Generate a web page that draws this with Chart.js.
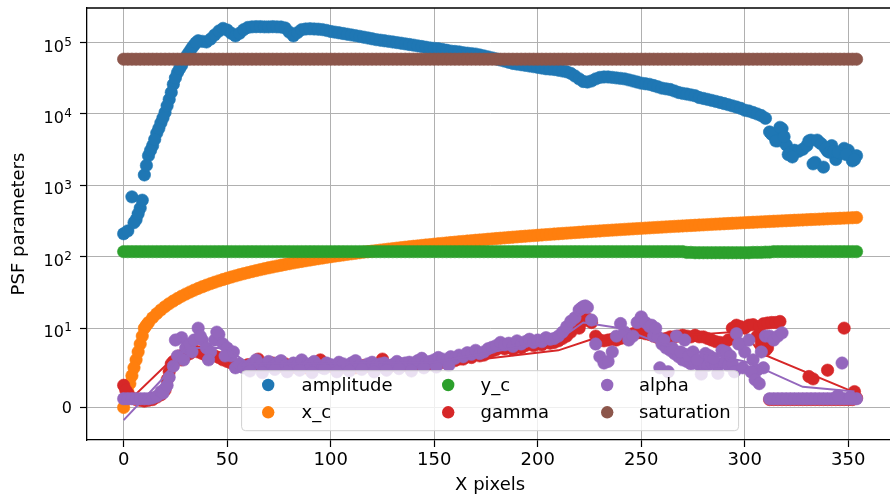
<!DOCTYPE html>
<html>
<head>
<meta charset="utf-8">
<title>PSF parameters</title>
<script src="https://cdn.jsdelivr.net/npm/chart.js@4.4.1/dist/chart.umd.min.js"></script>
<style>
html, body { margin: 0; padding: 0; background: #fff; overflow: hidden; }
canvas { display: block; }
</style>
</head>
<body>
<canvas id="psfChart" width="900" height="498"></canvas>
<script>
// ---- data (X pixel positions, every 2 px) ----
const xPixels = [
  0, 2, 4, 6, 8, 10, 12, 14, 16, 18,
  20, 22, 24, 26, 28, 30, 32, 34, 36, 38,
  40, 42, 44, 46, 48, 50, 52, 54, 56, 58,
  60, 62, 64, 66, 68, 70, 72, 74, 76, 78,
  80, 82, 84, 86, 88, 90, 92, 94, 96, 98,
  100, 102, 104, 106, 108, 110, 112, 114, 116, 118,
  120, 122, 124, 126, 128, 130, 132, 134, 136, 138,
  140, 142, 144, 146, 148, 150, 152, 154, 156, 158,
  160, 162, 164, 166, 168, 170, 172, 174, 176, 178,
  180, 182, 184, 186, 188, 190, 192, 194, 196, 198,
  200, 202, 204, 206, 208, 210, 212, 214, 216, 218,
  220, 222, 224, 226, 228, 230, 232, 234, 236, 238,
  240, 242, 244, 246, 248, 250, 252, 254, 256, 258,
  260, 262, 264, 266, 268, 270, 272, 274, 276, 278,
  280, 282, 284, 286, 288, 290, 292, 294, 296, 298,
  300, 302, 304, 306, 308, 310, 312, 314, 316, 318,
  320, 322, 324, 326, 328, 330, 332, 334, 336, 338,
  340, 342, 344, 346, 348, 350, 352, 354
];

const amplitude = [
  210, 230, 690, 330, 480, 1400, 2600, 3600, 5400, 7500,
  10500, 16000, 26000, 38000, 48000, 62000, 76000, 92000, 106000, 104000,
  102000, 112000, 128000, 145000, 158000, 150000, 135000, 124000, 135000, 152000,
  163000, 166000, 167000, 167000, 166000, 166000, 167000, 166000, 165000, 160000,
  140000, 124000, 138000, 152000, 155000, 156000, 155000, 154000, 152000, 148000,
  143000, 140000, 137000, 134000, 131000, 128000, 125000, 122000, 119000, 116000,
  113000, 110000, 108000, 106000, 104000, 102000, 100000, 98000, 96000, 94000,
  92000, 90000, 88000, 86000, 84000, 83000, 82000, 80000, 78000, 76000,
  75000, 74000, 72000, 71000, 70000, 69000, 67000, 65000, 63000, 61000,
  59000, 57000, 55000, 53000, 51000, 50000, 49000, 48000, 47000, 46000,
  45000, 44000, 43000, 42500, 42000, 41000, 40000, 39000, 37000, 34000,
  31000, 28500, 28000, 29000, 31000, 32500, 33000, 33000, 32500, 32000,
  31500, 31000, 30000, 29000, 28000, 27000, 26500, 26000, 25000, 24000,
  23000, 22500, 22000, 21000, 20000, 19400, 19000, 18500, 18000, 17000,
  16500, 16000, 15500, 15000, 14500, 14000, 13500, 13000, 12500, 12000,
  11300, 11000, 10500, 10000, 9500, 8700, 5600, 5000, 4200, 6200,
  3700, 2900, 3100, 3000, 3200, 3600, 4300, 2100, 4000, 1800,
  3000, 3600, 2300, 2800, 3300, 3100, 2200, 2600
];
const amplitudeExtraX = [5, 7, 9, 11, 13, 15, 17, 19, 21, 23, 25, 27, 29, 31, 33, 35,
  313, 315, 317, 319, 321, 323, 331, 333, 335, 337, 339, 341, 343, 345, 349, 353];
const amplitudeExtraY = [300, 400, 620, 1900, 3100, 4400, 6300, 8800, 13000, 20000, 32000, 43000, 55000, 69000, 84000, 100000,
  5200, 4200, 6500, 4800, 2700, 2500, 4200, 2000, 4300, 3800, 3300, 2900, 3000, 2900, 2700, 2300];

const xCentre = [
  0, 2, 4, 6, 8, 10, 12, 14, 16, 18,
  20, 22, 24, 26, 28, 30, 32, 34, 36, 38,
  40, 42, 44, 46, 48, 50, 52, 54, 56, 58,
  60, 62, 64, 66, 68, 70, 72, 74, 76, 78,
  80, 82, 84, 86, 88, 90, 92, 94, 96, 98,
  100, 102, 104, 106, 108, 110, 112, 114, 116, 118,
  120, 122, 124, 126, 128, 130, 132, 134, 136, 138,
  140, 142, 144, 146, 148, 150, 152, 154, 156, 158,
  160, 162, 164, 166, 168, 170, 172, 174, 176, 178,
  180, 182, 184, 186, 188, 190, 192, 194, 196, 198,
  200, 202, 204, 206, 208, 210, 212, 214, 216, 218,
  220, 222, 224, 226, 228, 230, 232, 234, 236, 238,
  240, 242, 244, 246, 248, 250, 252, 254, 256, 258,
  260, 262, 264, 266, 268, 270, 272, 274, 276, 278,
  280, 282, 284, 286, 288, 290, 292, 294, 296, 298,
  300, 302, 304, 306, 308, 310, 312, 314, 316, 318,
  320, 322, 324, 326, 328, 330, 332, 334, 336, 338,
  340, 342, 344, 346, 348, 350, 352, 354
];
const xCentreExtraX = [1, 3, 5, 7, 9, 11];
const xCentreExtraY = [1, 3, 5, 7, 9, 11];

const yCentre = [
  118, 118, 118, 118, 118, 118, 118, 118, 118, 118,
  118, 118, 118, 118, 118, 118, 118, 118, 118, 118,
  118, 118, 118, 118, 118, 118, 118, 118, 118, 118,
  118, 118, 118, 118, 118, 118, 118, 118, 118, 118,
  118, 118, 118, 118, 118, 118, 118, 118, 118, 118,
  118, 118, 118, 118, 118, 118, 118, 118, 118, 118,
  118, 118, 118, 118, 118, 118, 118, 118, 118, 118,
  118, 118, 118, 118, 118, 118, 118, 118, 118, 118,
  118, 118, 118, 118, 118, 118, 118, 118, 118, 118,
  118, 118, 118, 118, 118, 118, 118, 118, 118, 118,
  118, 118, 118, 118, 118, 118, 118, 118, 118, 118,
  118, 118, 118, 118, 118, 118, 118, 118, 118, 118,
  118, 118, 118, 118, 118, 118, 118, 118, 118, 118,
  118, 118, 118, 118, 118, 118, 115, 115, 114, 114,
  114, 114, 114, 114, 114, 114, 114, 114, 114, 114,
  114, 114, 115, 115, 115, 116, 116, 118, 118, 118,
  118, 118, 118, 118, 118, 118, 118, 118, 118, 118,
  118, 118, 118, 118, 118, 118, 118, 118
];

const gamma = [
  2.8, 1.8, 1.2, 1.0, 0.9, 0.8, 0.9, 1.0, 1.3, 1.6,
  2.2, 4.5, 5.8, 6.2, 6.0, 6.5, 6.8, 7.2, 7.0, 6.8,
  6.5, 6.7, 6.5, 6.3, 6.0, 5.8, 5.6, 5.4, 5.3, 5.2,
  5.4, 5.2, 5.5, 5.3, 5.1, 5.4, 5.6, 5.3, 5.2, 5.5,
  5.3, 5.1, 5.4, 5.2, 5.0, 5.3, 5.5, 5.2, 5.1, 5.3,
  5.2, 5.0, 5.3, 5.1, 5.2, 5.4, 5.0, 5.1, 5.3, 5.2,
  5.0, 5.1, 5.3, 5.2, 5.1, 5.3, 5.2, 5.4, 5.3, 5.2,
  5.2, 5.5, 5.7, 5.3, 5.5, 5.6, 5.8, 5.7, 5.6, 5.9,
  5.9, 6.1, 6.1, 6.4, 6.3, 6.7, 6.5, 6.6, 6.9, 7.1,
  7.3, 7.6, 7.4, 7.6, 7.3, 7.8, 7.5, 7.8, 8.0, 7.8,
  8.0, 7.9, 8.2, 8.1, 8.2, 8.4, 8.7, 9.0, 9.5, 10.5,
  10.0, 12.5, 13.5, 12.0, 9.0, 8.5, 8.4, 8.5, 8.6, 8.5,
  8.7, 8.8, 9.0, 9.3, 9.5, 9.5, 9.3, 9.2, 9.0, 8.8,
  8.6, 8.7, 8.9, 8.9, 9.0, 9.1, 9.0, 8.9, 9.1, 8.9,
  8.9, 8.7, 8.5, 8.3, 8.2, 8.1, 8.5, 10.0, 11.0, 10.5,
  10.0, 11.0, 11.2, 9.0, 8.0, 7.2, 1.0, 1.0, 1.0, 1.0,
  1.0, 1.0, 1.0, 1.0, 1.0, 1.0, 1.0, 1.0, 1.0, 1.0,
  1.0, 1.0, 1.0, 1.0, 1.0, 1.0, 1.0, 1.2
];
const gammaExtraX = [1, 21, 23, 27, 65, 95, 125, 307, 309, 311, 311, 313, 315, 317, 331, 333, 340, 348, 353];
const gammaExtraY = [2.2, 3.5, 5.5, 6.5, 6.1, 6.0, 6.1, 10.5, 11.5, 11.8, 7.5, 12.0, 12.0, 12.4, 3.9, 3.6, 4.7, 10.0, 2.0];

const alpha = [
  1.1, 1.1, 1.1, 1.1, 1.1, 1.1, 1.1, 1.2, 1.4, 2.0,
  2.4, 3.8, 5.2, 6.5, 8.8, 7.5, 8.0, 8.5, 10.0, 8.5,
  7.5, 7.0, 8.5, 9.2, 8.0, 7.5, 6.5, 5.0, 5.5, 5.0,
  5.2, 5.5, 6.0, 5.4, 5.0, 5.8, 5.2, 5.6, 5.9, 5.3,
  5.1, 5.6, 5.4, 6.0, 5.2, 5.5, 5.8, 5.3, 5.0, 5.6,
  5.4, 5.2, 5.7, 5.5, 5.1, 5.6, 5.9, 5.3, 5.2, 5.5,
  5.7, 5.3, 5.5, 5.6, 5.2, 5.4, 5.8, 5.5, 5.6, 5.7,
  5.5, 5.9, 6.2, 5.6, 5.8, 6.0, 6.3, 6.1, 5.9, 6.4,
  6.2, 6.6, 6.4, 6.9, 6.7, 7.2, 6.8, 7.0, 7.4, 7.6,
  7.8, 8.2, 7.9, 8.1, 7.7, 8.4, 8.0, 8.3, 8.6, 8.2,
  8.5, 8.3, 8.8, 8.6, 8.7, 9.0, 9.5, 10.5, 12.5, 14.0,
  18.0, 20.0, 19.5, 13.0, 8.0, 6.4, 5.6, 5.8, 7.0, 9.0,
  11.6, 9.5, 8.5, 9.0, 12.0, 14.4, 12.0, 10.5, 9.0, 8.9,
  8.0, 7.5, 7.2, 6.8, 6.4, 6.0, 5.8, 5.5, 5.6, 5.4,
  5.5, 5.3, 5.6, 5.4, 5.5, 5.7, 5.3, 5.5, 9.3, 8.0,
  7.0, 8.5, 6.0, 4.7, 7.0, 9.0, 1.1, 1.1, 1.1, 1.1,
  1.1, 1.1, 1.1, 1.1, 1.1, 1.1, 1.1, 1.1, 1.1, 1.1,
  1.1, 1.1, 1.1, 1.1, 1.1, 1.1, 1.1, 1.1
];
const alphaExtraX = [19, 21, 25, 29, 33, 37, 41, 45, 49, 53,
  61, 67, 73, 79, 85, 91, 97, 103, 109, 115, 121, 127, 133, 139, 145, 151, 157,
  221, 223,
  255, 257, 259, 261, 263, 265, 267, 269, 271, 273, 275, 277, 279, 281,
  283, 285, 287, 289, 291, 293, 295, 297, 299, 303, 305, 307, 309,
  312, 314, 316, 318, 345, 347, 351];
const alphaExtraY = [1.8, 2.8, 8.5, 6.0, 7.0, 9.0, 6.0, 9.5, 6.5, 7.0,
  4.6, 4.4, 4.8, 4.5, 4.7, 4.4, 4.9, 4.5, 4.6, 4.8, 4.5, 4.7, 4.9, 4.6, 5.0, 5.1, 5.3,
  19.0, 20.5,
  11.0, 10.0, 5.0, 8.5, 4.5, 7.5, 9.0, 7.0, 8.5, 6.5, 7.0, 6.0, 4.2, 6.8,
  6.5, 6.2, 4.3, 7.2, 7.0, 6.5, 4.5, 8.0, 5.0, 4.5, 3.5, 3.0, 5.0,
  9.0, 8.5, 9.0, 9.4, 1.5, 5.6, 1.3];

const saturation = [
  58500, 58500, 58500, 58500, 58500, 58500, 58500, 58500, 58500, 58500,
  58500, 58500, 58500, 58500, 58500, 58500, 58500, 58500, 58500, 58500,
  58500, 58500, 58500, 58500, 58500, 58500, 58500, 58500, 58500, 58500,
  58500, 58500, 58500, 58500, 58500, 58500, 58500, 58500, 58500, 58500,
  58500, 58500, 58500, 58500, 58500, 58500, 58500, 58500, 58500, 58500,
  58500, 58500, 58500, 58500, 58500, 58500, 58500, 58500, 58500, 58500,
  58500, 58500, 58500, 58500, 58500, 58500, 58500, 58500, 58500, 58500,
  58500, 58500, 58500, 58500, 58500, 58500, 58500, 58500, 58500, 58500,
  58500, 58500, 58500, 58500, 58500, 58500, 58500, 58500, 58500, 58500,
  58500, 58500, 58500, 58500, 58500, 58500, 58500, 58500, 58500, 58500,
  58500, 58500, 58500, 58500, 58500, 58500, 58500, 58500, 58500, 58500,
  58500, 58500, 58500, 58500, 58500, 58500, 58500, 58500, 58500, 58500,
  58500, 58500, 58500, 58500, 58500, 58500, 58500, 58500, 58500, 58500,
  58500, 58500, 58500, 58500, 58500, 58500, 58500, 58500, 58500, 58500,
  58500, 58500, 58500, 58500, 58500, 58500, 58500, 58500, 58500, 58500,
  58500, 58500, 58500, 58500, 58500, 58500, 58500, 58500, 58500, 58500,
  58500, 58500, 58500, 58500, 58500, 58500, 58500, 58500, 58500, 58500,
  58500, 58500, 58500, 58500, 58500, 58500, 58500, 58500
];

// thin fitted curves drawn through gamma and alpha
const gammaFitX = [0, 4, 25, 40, 60, 150, 210, 225, 240, 260, 300, 307, 353];
const gammaFitY = [1.4, 1.2, 6.5, 6.5, 5.3, 5.4, 7.2, 8.5, 8.6, 8.9, 9.6, 6.9, 1.9];
const alphaFitX = [0, 18, 30, 50, 60, 150, 210, 222, 240, 260, 300, 305, 328, 353];
const alphaFitY = [-1.6, 3.4, 7.5, 7.5, 5.5, 5.7, 8.5, 12, 10, 8, 5.8, 5.3, 2.6, 2.0];

const seriesNames = ['amplitude', 'x_c', 'y_c', 'gamma', 'alpha', 'saturation'];
const seriesColors = ['#1f77b4', '#ff7f0e', '#2ca02c', '#d62728', '#9467bd', '#8c564b'];

const xTicks = [0, 50, 100, 150, 200, 250, 300, 350];
const yTicks = [0, 10, 100, 1000, 10000, 100000];
const yTickExponents = [null, '1', '2', '3', '4', '5'];

// ---- symmetric log scale (linthresh 10, linscale 1), like matplotlib 'symlog' ----
const LINTHRESH = 10;
const LINSCALE = 1 / (1 - 1 / 10);
function symlog(v) {
  const a = Math.abs(v);
  if (a <= LINTHRESH) return v / LINTHRESH * LINSCALE;
  return Math.sign(v) * (LINSCALE + Math.log10(a / LINTHRESH));
}
function symexp(t) {
  const a = Math.abs(t);
  if (a <= LINSCALE) return t / LINSCALE * LINTHRESH;
  return Math.sign(t) * LINTHRESH * Math.pow(10, a - LINSCALE);
}

class SymlogScale extends Chart.LinearScale {
  static id = 'symlog';
  static defaults = {};
  configure() {
    super.configure();
    this._tMin = symlog(this.min);
    this._tMax = symlog(this.max);
  }
  buildTicks() {
    return yTicks.filter(v => v >= this.min && v <= this.max).map(v => ({ value: v }));
  }
  getPixelForValue(value) {
    if (value === null || isNaN(value)) return NaN;
    return this.getPixelForDecimal((symlog(value) - this._tMin) / (this._tMax - this._tMin));
  }
  getValueForPixel(pixel) {
    return symexp(this._tMin + this.getDecimalForPixel(pixel) * (this._tMax - this._tMin));
  }
}
Chart.register(SymlogScale);

function toPoints(xs, ys) {
  return xs.map((x, i) => ({ x: x, y: ys[i] }));
}

function markerSet(idx, main, extraX, extraY, order) {
  let data = toPoints(xPixels, main);
  if (extraX) data = data.concat(toPoints(extraX, extraY));
  return {
    label: seriesNames[idx],
    data: data,
    backgroundColor: seriesColors[idx],
    borderColor: seriesColors[idx],
    pointRadius: 6.2,
    pointHoverRadius: 6.2,
    pointBorderWidth: 0.6,
    showLine: false,
    order: order
  };
}

function fitLine(idx, xs, ys, order) {
  return {
    label: seriesNames[idx] + ' fit',
    data: toPoints(xs, ys),
    borderColor: seriesColors[idx],
    backgroundColor: seriesColors[idx],
    borderWidth: 2,
    pointRadius: 0,
    showLine: true,
    fill: false,
    order: order
  };
}

// y tick labels as 10 with a raised exponent (matplotlib mathtext style)
const symlogLabels = {
  id: 'symlogLabels',
  afterDraw(chart) {
    const { ctx } = chart;
    const scale = chart.scales.y;
    const right = scale.right - 15;
    ctx.save();
    ctx.fillStyle = '#000';
    ctx.textBaseline = 'alphabetic';
    ctx.textAlign = 'right';
    yTicks.forEach((v, i) => {
      const y = scale.getPixelForValue(v);
      const exp = yTickExponents[i];
      if (exp === null) {
        ctx.font = '16px "DejaVu Sans"';
        ctx.fillText(String(v), right, y + 5.8);
        return;
      }
      ctx.font = '12px "DejaVu Sans"';
      const expW = ctx.measureText(exp).width;
      ctx.fillText(exp, right, y + 3.2);
      ctx.font = '16px "DejaVu Sans"';
      ctx.fillText('10', right - expW - 0.5, y + 9.1);
    });
    ctx.restore();
  }
};

// matplotlib-like frame (top/right spines) and legend with 3 columns
const frameAndLegend = {
  id: 'frameAndLegend',
  afterDraw(chart) {
    const { ctx, chartArea } = chart;
    ctx.save();
    ctx.strokeStyle = '#000';
    ctx.lineWidth = 1.3;
    ctx.beginPath();
    ctx.moveTo(chartArea.left, chartArea.top);
    ctx.lineTo(chartArea.right, chartArea.top);
    ctx.lineTo(chartArea.right, chartArea.bottom);
    ctx.stroke();

    const w = 497, h = 60;
    const left = (chartArea.left + chartArea.right) / 2 - w / 2;
    const top = chartArea.bottom - 9.3 - h;
    ctx.beginPath();
    ctx.roundRect(left, top, w, h, 4);
    ctx.fillStyle = 'rgba(255,255,255,0.8)';
    ctx.fill();
    ctx.strokeStyle = '#d0d0d0';
    ctx.lineWidth = 1;
    ctx.stroke();

    const markerX = [26.6, 206.6, 365.6];
    const textX = [60, 239, 397.3];
    const rowY = [14.3, 41.6];
    ctx.font = '18px "DejaVu Sans"';
    ctx.textBaseline = 'middle';
    ctx.textAlign = 'left';
    seriesNames.forEach((name, k) => {
      const col = Math.floor(k / 2), row = k % 2;
      const y = top + rowY[row];
      ctx.beginPath();
      ctx.arc(left + markerX[col], y, 6.2, 0, Math.PI * 2);
      ctx.fillStyle = seriesColors[k];
      ctx.fill();
      ctx.fillStyle = '#000';
      ctx.fillText(name, left + textX[col], y + 1);
    });
    ctx.restore();
  }
};

Chart.defaults.font.family = '"DejaVu Sans", sans-serif';
Chart.defaults.font.size = 18;
Chart.defaults.color = '#000';

new Chart(document.getElementById('psfChart').getContext('2d'), {
  type: 'scatter',
  data: {
    datasets: [
      markerSet(0, amplitude, amplitudeExtraX, amplitudeExtraY, 8),
      markerSet(1, xCentre, xCentreExtraX, xCentreExtraY, 7),
      markerSet(2, yCentre, null, null, 6),
      markerSet(3, gamma, gammaExtraX, gammaExtraY, 5),
      fitLine(3, gammaFitX, gammaFitY, 4),
      markerSet(4, alpha, alphaExtraX, alphaExtraY, 3),
      fitLine(4, alphaFitX, alphaFitY, 2),
      markerSet(5, saturation, null, null, 1)
    ]
  },
  options: {
    responsive: false,
    devicePixelRatio: 1,
    animation: false,
    layout: { padding: { top: 8, right: 3, left: 0, bottom: 0 } },
    plugins: {
      legend: { display: false },
      tooltip: { enabled: false }
    },
    scales: {
      x: {
        type: 'linear',
        min: -17.7,
        max: 371.7,
        afterBuildTicks: s => { s.ticks = xTicks.map(v => ({ value: v })); },
        afterFit: s => { s.height = 58; s.paddingLeft = 0; s.paddingRight = 0; },
        ticks: { autoSkip: false, maxRotation: 0, padding: 3, color: '#000', font: { size: 18 } },
        grid: { color: '#b0b0b0', lineWidth: 1, tickLength: 7, tickColor: '#000', tickWidth: 1.2 },
        border: { color: '#000', width: 1.3 },
        title: { display: true, text: 'X pixels', font: { size: 18 }, color: '#000', padding: { top: 0, bottom: 2 } }
      },
      y: {
        type: 'symlog',
        min: -4.1,
        max: 305000,
        afterFit: s => { s.width = 87; s.paddingTop = 0; s.paddingBottom = 0; },
        ticks: { display: false, autoSkip: false },
        grid: { color: '#b0b0b0', lineWidth: 1, tickLength: 7, tickColor: '#000', tickWidth: 1.2 },
        border: { color: '#000', width: 1.3 },
        title: { display: true, text: 'PSF parameters', font: { size: 18 }, color: '#000', padding: { top: 9, bottom: 0 } }
      }
    }
  },
  plugins: [frameAndLegend, symlogLabels]
});
</script>
</body>
</html>
